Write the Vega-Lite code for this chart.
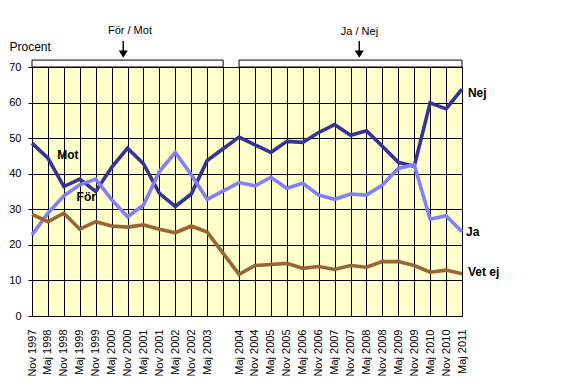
{
  "$schema": "https://vega.github.io/schema/vega-lite/v6.json",
  "width": 430,
  "height": 249,
  "autosize": {"type": "none"},
  "padding": {"left": 32, "top": 67, "right": 104, "bottom": 72},
  "background": "white",
  "config": {
    "view": {"fill": "#FFFFCC", "stroke": "black", "strokeWidth": 1},
    "font": "Liberation Sans"
  },
  "datasets": {
    "poll": [
      {"period": "Nov 1997", "Nej": 48.6, "Ja": 22.8, "Vet ej": 28.6},
      {"period": "Maj 1998", "Nej": 44.4, "Ja": 28.9, "Vet ej": 26.5},
      {"period": "Nov 1998", "Nej": 36.4, "Ja": 33.8, "Vet ej": 28.9},
      {"period": "Maj 1999", "Nej": 38.5, "Ja": 36.9, "Vet ej": 24.4},
      {"period": "Nov 1999", "Nej": 35.0, "Ja": 38.5, "Vet ej": 26.5},
      {"period": "Maj 2000", "Nej": 41.8, "Ja": 32.7, "Vet ej": 25.3},
      {"period": "Nov 2000", "Nej": 47.2, "Ja": 27.9, "Vet ej": 25.0},
      {"period": "Maj 2001", "Nej": 42.8, "Ja": 31.2, "Vet ej": 25.6},
      {"period": "Nov 2001", "Nej": 34.5, "Ja": 40.6, "Vet ej": 24.4},
      {"period": "Maj 2002", "Nej": 30.8, "Ja": 46.0, "Vet ej": 23.4},
      {"period": "Nov 2002", "Nej": 34.3, "Ja": 39.7, "Vet ej": 25.3},
      {"period": "Maj 2003", "Nej": 43.7, "Ja": 32.8, "Vet ej": 23.6},
      {"period": "Maj 2004", "Nej": 50.3, "Ja": 37.5, "Vet ej": 11.7},
      {"period": "Nov 2004", "Nej": 48.1, "Ja": 36.6, "Vet ej": 14.2},
      {"period": "Maj 2005", "Nej": 46.0, "Ja": 39.0, "Vet ej": 14.5},
      {"period": "Nov 2005", "Nej": 49.1, "Ja": 35.9, "Vet ej": 14.8},
      {"period": "Maj 2006", "Nej": 48.8, "Ja": 37.3, "Vet ej": 13.4},
      {"period": "Nov 2006", "Nej": 51.6, "Ja": 34.0, "Vet ej": 13.9},
      {"period": "Maj 2007", "Nej": 53.8, "Ja": 32.8, "Vet ej": 13.1},
      {"period": "Nov 2007", "Nej": 50.8, "Ja": 34.3, "Vet ej": 14.2},
      {"period": "Maj 2008", "Nej": 52.1, "Ja": 34.0, "Vet ej": 13.7},
      {"period": "Nov 2008", "Nej": 47.7, "Ja": 36.8, "Vet ej": 15.3},
      {"period": "Maj 2009", "Nej": 43.2, "Ja": 41.5, "Vet ej": 15.3},
      {"period": "Nov 2009", "Nej": 42.1, "Ja": 42.5, "Vet ej": 14.2},
      {"period": "Maj 2010", "Nej": 59.9, "Ja": 27.2, "Vet ej": 12.3},
      {"period": "Nov 2010", "Nej": 58.2, "Ja": 28.2, "Vet ej": 12.9},
      {"period": "Maj 2011", "Nej": 63.8, "Ja": 23.7, "Vet ej": 11.9}
    ],
    "brackets": [
      {"from": 0, "to": 12, "value": 70, "value2": 71.95},
      {"from": 13, "to": 27, "value": 70, "value2": 71.95}
    ],
    "arrows": [
      {"pos": 5.73, "value": 77.3, "value2": 74.0},
      {"pos": 20.55, "value": 77.3, "value2": 74.0}
    ],
    "heads": [
      {"pos": 5.73, "value": 73.6},
      {"pos": 20.55, "value": 73.6}
    ],
    "periodLabels": [
      {"label": "För / Mot", "pos": 6.15, "value": 80.1},
      {"label": "Ja / Nej", "pos": 20.56, "value": 79.9}
    ],
    "seriesLabels": [
      {"label": "Mot", "pos": 1.58, "value": 45.3},
      {"label": "För", "pos": 2.8, "value": 33.5},
      {"label": "Nej", "pos": 27.37, "value": 62.8},
      {"label": "Ja", "pos": 27.25, "value": 23.6},
      {"label": "Vet ej", "pos": 27.37, "value": 12.4}
    ]
  },
  "resolve": {"scale": {"x": "independent"}},
  "encoding": {
    "y": {
      "field": "value",
      "type": "quantitative",
      "scale": {"domain": [0, 70], "nice": false, "zero": true},
      "axis": {
        "title": "Procent",
        "titleAngle": 0,
        "titleAlign": "left",
        "titleBaseline": "middle",
        "titleX": -23,
        "titleY": -21,
        "titleFont": "Liberation Sans",
        "titleFontSize": 12,
        "titleFontWeight": "normal",
        "titleColor": "black",
        "values": [0, 10, 20, 30, 40, 50, 60, 70],
        "labelOverlap": false,
        "labelFont": "Liberation Sans",
        "labelFontSize": 11,
        "labelColor": "black",
        "labelPadding": 7,
        "tickSize": 4,
        "tickColor": "black",
        "domain": false,
        "grid": true,
        "gridColor": "black",
        "gridOpacity": 1,
        "gridWidth": 1
      }
    }
  },
  "layer": [
    {
      "data": {"name": "poll"},
      "transform": [{"fold": ["Nej", "Ja", "Vet ej"], "as": ["series", "value"]}],
      "mark": {"type": "line", "strokeWidth": 3.6, "strokeJoin": "miter"},
      "encoding": {
        "x": {
          "field": "period",
          "type": "ordinal",
          "sort": ["Nov 1997", "Maj 1998", "Nov 1998", "Maj 1999", "Nov 1999", "Maj 2000", "Nov 2000", "Maj 2001", "Nov 2001", "Maj 2002", "Nov 2002", "Maj 2003", "Nov 2003", "Maj 2004", "Nov 2004", "Maj 2005", "Nov 2005", "Maj 2006", "Nov 2006", "Maj 2007", "Nov 2007", "Maj 2008", "Nov 2008", "Maj 2009", "Nov 2009", "Maj 2010", "Nov 2010", "Maj 2011"],
          "scale": {
            "type": "point",
            "padding": 0,
            "domain": ["Nov 1997", "Maj 1998", "Nov 1998", "Maj 1999", "Nov 1999", "Maj 2000", "Nov 2000", "Maj 2001", "Nov 2001", "Maj 2002", "Nov 2002", "Maj 2003", "Nov 2003", "Maj 2004", "Nov 2004", "Maj 2005", "Nov 2005", "Maj 2006", "Nov 2006", "Maj 2007", "Nov 2007", "Maj 2008", "Nov 2008", "Maj 2009", "Nov 2009", "Maj 2010", "Nov 2010", "Maj 2011"]
          },
          "axis": {
            "title": null,
            "labelAngle": -90,
            "labelFont": "Liberation Sans",
            "labelFontSize": 11,
            "labelColor": "black",
            "labelPadding": 13,
            "labelExpr": "datum.value == 'Nov 2003' ? '' : datum.value",
            "ticks": false,
            "domain": false,
            "grid": true,
            "gridColor": "black",
            "gridOpacity": 1,
            "gridWidth": 1,
            "labelOverlap": false
          }
        },
        "color": {
          "field": "series",
          "type": "nominal",
          "scale": {"domain": ["Nej", "Ja", "Vet ej"], "range": ["#333399", "#8080FF", "#996633"]},
          "legend": null
        }
      }
    },
    {
      "data": {"name": "brackets"},
      "mark": {"type": "rect", "fill": "white", "stroke": "black", "strokeWidth": 1},
      "encoding": {
        "x": {"field": "from", "type": "quantitative", "scale": {"domain": [0, 27], "nice": false, "zero": false}, "axis": null},
        "x2": {"field": "to"},
        "y2": {"field": "value2"}
      }
    },
    {
      "data": {"name": "arrows"},
      "mark": {"type": "rule", "color": "black", "strokeWidth": 1.5},
      "encoding": {
        "x": {"field": "pos", "type": "quantitative", "scale": {"domain": [0, 27], "nice": false, "zero": false}, "axis": null},
        "y2": {"field": "value2"}
      }
    },
    {
      "data": {"name": "heads"},
      "mark": {"type": "point", "shape": "M-1,-0.8L1,-0.8L0,0.8Z", "size": 81, "filled": true, "color": "black", "opacity": 1},
      "encoding": {
        "x": {"field": "pos", "type": "quantitative", "scale": {"domain": [0, 27], "nice": false, "zero": false}, "axis": null}
      }
    },
    {
      "data": {"name": "periodLabels"},
      "mark": {"type": "text", "font": "Liberation Sans", "fontSize": 11, "align": "center", "baseline": "middle", "color": "black"},
      "encoding": {
        "x": {"field": "pos", "type": "quantitative", "scale": {"domain": [0, 27], "nice": false, "zero": false}, "axis": null},
        "text": {"field": "label"}
      }
    },
    {
      "data": {"name": "seriesLabels"},
      "mark": {"type": "text", "font": "Liberation Sans", "fontSize": 12, "fontWeight": "bold", "align": "left", "baseline": "middle", "color": "black"},
      "encoding": {
        "x": {"field": "pos", "type": "quantitative", "scale": {"domain": [0, 27], "nice": false, "zero": false}, "axis": null},
        "text": {"field": "label"}
      }
    }
  ]
}
